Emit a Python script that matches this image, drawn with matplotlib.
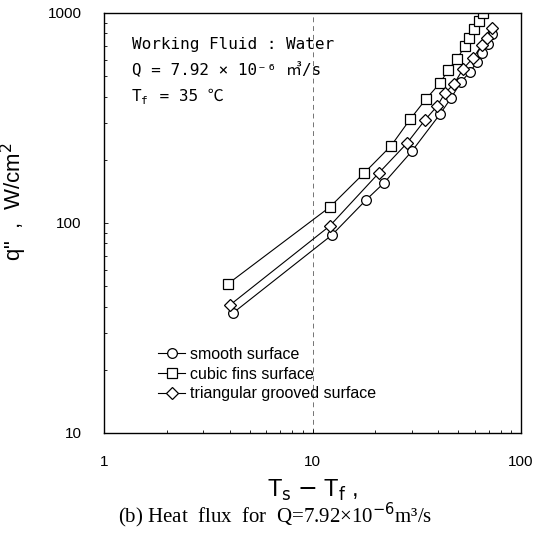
import matplotlib
matplotlib.use("Agg")
import matplotlib.pyplot as plt

# smooth surface
smooth_dt = [4.16, 12.4, 18.1, 22.0, 30.0, 40.9, 46.2, 51.5, 56.9, 61.5, 65.0, 69.5, 72.6]
smooth_q = [37.3, 87.7, 129, 155, 220, 330, 394, 469, 524, 584, 646, 712, 794]

# cubic fins surface
cubic_dt = [3.93, 12.1, 17.7, 23.8, 29.4, 35.0, 40.9, 44.7, 49.3, 53.9, 56.3, 59.5, 62.9, 65.7]
cubic_q = [51.3, 119, 173, 233, 312, 389, 464, 535, 604, 697, 760, 839, 916, 1000]

# triangular grooved surface
tri_dt = [4.02, 12.1, 20.8, 28.4, 34.6, 39.6, 43.2, 47.7, 52.7, 58.9, 65.0, 68.7, 72.6]
tri_q = [40.7, 96.8, 173, 240, 309, 360, 416, 459, 541, 611, 705, 760, 849]

labels = ["smooth surface", "cubic fins surface", "triangular grooved surface"]

fig = plt.figure(figsize=(5.5, 5.44), dpi=100)
ax = fig.add_axes([104 / 550, 1 - 433 / 544, 417 / 550, 420 / 544])

ax.axvline(10, color="0.45", lw=0.7, ls=(0, (5, 4)), zorder=0)

style = dict(color="black", lw=0.8, markersize=7, markerfacecolor="white",
             markeredgecolor="black", markeredgewidth=0.9)
ax.plot(smooth_dt, smooth_q, marker="o", label=labels[0], **style)
ax.plot(cubic_dt, cubic_q, marker="s", label=labels[1], **dict(style, markersize=6.5))
ax.plot(tri_dt, tri_q, marker="D", label=labels[2], **dict(style, markersize=6))

ax.set_xscale("log")
ax.set_yscale("log")
ax.set_xlim(1, 100)
ax.set_ylim(10, 1000)
ax.set_xticks([1, 10, 100])
ax.set_xticklabels(["1", "10", "100"])
ax.set_yticks([10, 100, 1000])
ax.set_yticklabels(["10", "100", "1000"])
ax.tick_params(which="both", direction="in", length=3, width=0.6)
ax.tick_params(which="minor", length=2)
ax.tick_params(axis="x", pad=16)
ax.tick_params(axis="y", pad=16)
for lab in ax.get_xticklabels() + ax.get_yticklabels():
    lab.set_fontfamily("Liberation Sans")
    lab.set_fontsize(11)
for s in ax.spines.values():
    s.set_linewidth(1.0)

info_font = ["DejaVu Sans Mono", "Noto Sans CJK KR", "DejaVu Sans"]
ax.text(0.067, 0.915, "Working Fluid : Water", transform=ax.transAxes,
        fontsize=11.5, family=info_font)
ax.text(0.067, 0.852, "Q = 7.92 × 10⁻⁶ ㎥/s", transform=ax.transAxes,
        fontsize=11.5, family=info_font)
# T_f = 35 ℃ written in pieces so the mono font and the ℃ sign both work
ax.text(0.067, 0.79, "T", transform=ax.transAxes, fontsize=11.5, family=info_font)
ax.text(0.089, 0.783, "f", transform=ax.transAxes, fontsize=8, family=info_font)
ax.text(0.111, 0.79, " = 35 ℃", transform=ax.transAxes,
        fontsize=11.5, family=info_font)

leg = ax.legend(loc="lower left", bbox_to_anchor=(0.115, 0.06), frameon=False,
                prop={"family": "Liberation Sans", "size": 11.5},
                handlelength=1.7, handletextpad=0.3,
                labelspacing=0.3, borderaxespad=0)

ax.set_ylabel('q"  ,  W/cm$^2$', fontsize=16, family="Liberation Sans")
ax.yaxis.set_label_coords(-0.18, 0.55)
ax.set_xlabel(r"T$_\mathrm{s}$ $-$ T$_\mathrm{f}$ ,", fontsize=17,
              family="Liberation Sans", labelpad=6)

fig.text(0.5, 0.04, "(b) Heat  flux  for  Q=7.92×10$^{-6}$m³/s", ha="center",
         fontsize=15, family="Liberation Serif")

fig.savefig("out.png", dpi=100)
